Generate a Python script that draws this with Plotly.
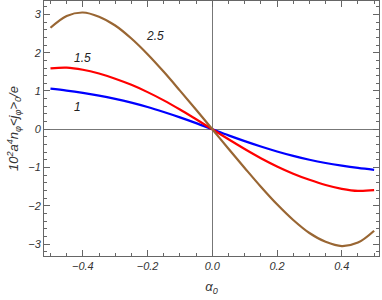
import plotly.graph_objects as go

alpha0 = [-0.5, -0.45, -0.4, -0.35, -0.3, -0.25, -0.2, -0.15, -0.1, -0.05, 0.0,
          0.05, 0.1, 0.15, 0.2, 0.25, 0.3, 0.35, 0.4, 0.45, 0.5]

curve_1 = [1.06, 1.01, 0.95, 0.88, 0.795, 0.695, 0.58, 0.45, 0.31, 0.16, 0.0,
           -0.16, -0.31, -0.45, -0.58, -0.695, -0.795, -0.88, -0.95, -1.01, -1.06]
curve_15 = [1.59, 1.61, 1.555, 1.455, 1.32, 1.16, 0.97, 0.755, 0.515, 0.26, 0.0,
            -0.26, -0.515, -0.755, -0.97, -1.16, -1.32, -1.455, -1.555, -1.61, -1.59]
curve_25 = [2.65, 2.96, 3.05, 2.94, 2.71, 2.37, 1.96, 1.50, 1.01, 0.51, 0.0,
            -0.51, -1.01, -1.50, -1.96, -2.37, -2.71, -2.94, -3.05, -2.96, -2.65]

series_names = ["1", "1.5", "2.5"]
series_colors = ["#0000FF", "#FF0000", "#996633"]
label_pos = [(-0.415, 0.59), (-0.40, 1.86), (-0.177, 2.44)]

x_ticks = [-0.4, -0.2, 0.0, 0.2, 0.4]
x_ticklabels = ["−0.4", "−0.2", "0.0", "0.2", "0.4"]
y_ticks = [-3, -2, -1, 0, 1, 2, 3]

fig = go.Figure()
for name, ys, col in zip(series_names, [curve_1, curve_15, curve_25], series_colors):
    fig.add_trace(go.Scatter(x=alpha0, y=ys, mode="lines", name=name,
                             line=dict(color=col, width=2.2, shape="spline", smoothing=1.0),
                             showlegend=False))

for name, (lx, ly) in zip(series_names, label_pos):
    fig.add_annotation(x=lx, y=ly, text=name, showarrow=False,
                       font=dict(family="Liberation Sans", size=12, color="#222", style="italic"))

axis_common = dict(
    showgrid=False, showline=True, linecolor="#666", linewidth=1, mirror="allticks",
    ticks="inside", tickcolor="#666", ticklen=6, tickwidth=1,
    zeroline=True, zerolinecolor="#777", zerolinewidth=1,
    tickfont=dict(family="Liberation Sans", size=11, color="#333", style="italic"),
)

fig.update_xaxes(range=[-0.52, 0.515], tickvals=x_ticks, ticktext=x_ticklabels,
                 minor=dict(dtick=0.05, tick0=0, ticks="inside", ticklen=3, tickcolor="#666"),
                 title=dict(text="α<sub>0</sub>", standoff=10,
                            font=dict(family="Liberation Sans", size=13, color="#333", style="italic")),
                 **axis_common)
fig.update_yaxes(range=[-3.31, 3.35], tickvals=y_ticks,
                 minor=dict(dtick=0.2, tick0=0, ticks="inside", ticklen=3, tickcolor="#666"),
                 title=dict(text="10<sup>2</sup>a<sup>4</sup>n<sub>φ</sub>&lt;j<sub>φ</sub>&gt;<sub>0</sub>/e",
                            standoff=6,
                            font=dict(family="Liberation Sans", size=13, color="#333", style="italic")),
                 **axis_common)

fig.update_layout(width=382, height=300, margin=dict(l=44, r=3, t=1, b=44),
                  plot_bgcolor="white", paper_bgcolor="white")

fig.write_html("out.html", config={"displayModeBar": False},
               post_script="document.body.style.margin='0';document.body.style.padding='0';")
